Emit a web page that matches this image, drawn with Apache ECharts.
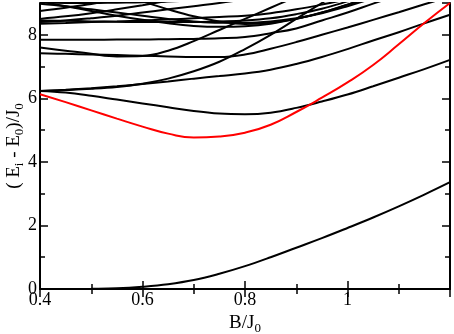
<!DOCTYPE html>
<html>
<head>
<meta charset="utf-8">
<script src="https://cdn.jsdelivr.net/npm/echarts@6/dist/echarts.min.js"></script>
<style>
html, body { margin: 0; padding: 0; background: #fff; }
#chart { width: 454px; height: 334px; }
</style>
</head>
<body>
<div id="chart"></div>
<script>
// field values B/J0
const bField = [0.4, 0.45, 0.5, 0.55, 0.6, 0.65, 0.7, 0.75, 0.8, 0.85, 0.9, 0.95, 1.0, 1.05, 1.1, 1.15, 1.2];

// energy gaps (Ei - E0)/J0; null = off the top of the plot
const level1 = [0, 0, 0.005, 0.02, 0.07, 0.15, 0.28, 0.48, 0.72, 1.0, 1.3, 1.6, 1.92, 2.25, 2.6, 2.97, 3.36];
const levelRed = [6.13, 5.88, 5.62, 5.36, 5.11, 4.89, 4.77, 4.8, 4.92, 5.17, 5.57, 6.02, 6.5, 7.05, 7.7, 8.37, 9.0];
const levelA = [6.23, 6.18, 6.08, 5.96, 5.84, 5.72, 5.6, 5.52, 5.5, 5.55, 5.7, 5.9, 6.12, 6.38, 6.65, 6.92, 7.21];
const levelB = [6.23, 6.27, 6.32, 6.38, 6.45, 6.53, 6.62, 6.7, 6.78, 6.9, 7.08, 7.3, 7.55, 7.82, 8.08, 8.36, 8.63];
const levelC = [6.23, 6.26, 6.3, 6.36, 6.46, 6.62, 6.85, 7.15, 7.55, 8.0, 8.5, 9.0, 9.5, null, null, null, null];
const levelD = [7.42, 7.4, 7.38, 7.36, 7.34, 7.32, 7.3, 7.3, 7.38, 7.56, 7.77, 8.0, 8.23, 8.47, 8.71, 8.96, 9.2];
const levelE = [7.6, 7.5, 7.4, 7.32, 7.33, 7.5, 7.8, 8.15, 8.5, 8.85, 9.2, null, null, null, null, null, null];
const levelF = [7.84, 7.84, 7.84, 7.85, 7.85, 7.86, 7.87, 7.89, 7.93, 8.05, 8.2, 8.45, 8.7, 8.98, 9.25, null, null];
const levelT1 = [9.05, 8.9, 8.75, 8.6, 8.47, 8.36, 8.28, 8.25, 8.27, 8.35, 8.5, 8.7, 8.95, 9.2, null, null, null];
const levelT2 = [8.98, 8.9, 8.8, 8.7, 8.6, 8.5, 8.42, 8.38, 8.38, 8.42, 8.52, 8.68, 8.9, 9.15, null, null, null];
const levelT3 = [8.5, 8.58, 8.68, 8.8, 8.93, 9.07, 9.2, null, null, null, null, null, null, null, null, null, null];
const levelT4 = [8.4, 8.45, 8.52, 8.6, 8.7, 8.8, 8.9, 9.0, 9.12, null, null, null, null, null, null, null, null];
const levelT5 = [8.75, 8.85, 8.97, 9.1, null, null, null, null, null, null, null, null, null, null, null, null, null];
const levelT6 = [8.45, 8.44, 8.42, 8.41, 8.4, 8.4, 8.4, 8.42, 8.45, 8.52, 8.65, 8.82, 9.05, 9.3, null, null, null];
const levelT7 = [8.35, 8.37, 8.4, 8.42, 8.45, 8.48, 8.52, 8.56, 8.6, 8.68, 8.8, 8.95, 9.12, null, null, null, null];
const levelT8 = [9.02, 9.0, 9.0, 9.01, 9.02, 9.05, 9.08, 9.12, null, null, null, null, null, null, null, null, null];
const levelT9 = [null, null, null, 9.3, 9.05, 8.8, 8.58, 8.42, 8.34, 8.38, 8.5, 8.7, 8.95, 9.2, null, null, null];

const xTicks = [0.4, 0.6, 0.8, 1];
const yTicks = [0, 2, 4, 6, 8];

const blackLevels = [level1, levelA, levelB, levelC, levelD, levelE, levelF,
    levelT1, levelT2, levelT3, levelT4, levelT5, levelT6, levelT7, levelT8, levelT9];

const serif = 'Liberation Serif';

const chart = echarts.init(document.getElementById('chart'));

const toPoints = (ys) => bField.map((b, i) => [b, ys[i]]);

const makeLine = (ys, color, smooth) => ({
    type: 'line',
    data: toPoints(ys),
    showSymbol: false,
    smooth: smooth,
    connectNulls: false,
    silent: true,
    lineStyle: { color: color, width: 2 },
    xAxisIndex: 0,
    yAxisIndex: 0
});

const series = blackLevels.map(ys => makeLine(ys, '#000', 0.4));
series.push(makeLine(levelRed, '#ff0000', 0.5));

const frameLine = { show: true, lineStyle: { color: '#000', width: 2 } };

const xBase = {
    type: 'value', min: 0.4, max: 1.2, interval: 0.2,
    axisLine: frameLine,
    axisTick: { inside: true, length: 8, lineStyle: { color: '#000', width: 1.5 } },
    minorTick: { show: true, splitNumber: 2, length: 5, lineStyle: { color: '#000', width: 1.5 } },
    splitLine: { show: false },
    minorSplitLine: { show: false }
};

const yMajor = {
    type: 'value', min: 0, max: 9, interval: 2,
    axisLine: frameLine,
    axisTick: { inside: true, length: 8, lineStyle: { color: '#000', width: 1.5 } },
    splitLine: { show: false }
};
const yMinor = {
    type: 'value', min: 0, max: 9, interval: 1,
    axisLine: { show: false },
    axisTick: { inside: true, length: 5, lineStyle: { color: '#000', width: 1.5 } },
    axisLabel: { show: false },
    splitLine: { show: false }
};

const option = {
    animation: false,
    backgroundColor: '#fff',
    grid: { left: 40, right: 4, top: 3, bottom: 45, containLabel: false, outerBoundsMode: 'none' },
    xAxis: [
        Object.assign({}, xBase, {
            position: 'bottom',
            axisLabel: {
                color: '#000', fontFamily: serif, fontSize: 18, margin: 2,
                showMaxLabel: false,
                formatter: v => xTicks.some(t => Math.abs(t - v) < 1e-9) ? String(+v.toFixed(1)) : ''
            },
            name: 'B/J{sub|0}',
            nameLocation: 'middle',
            nameGap: 23,
            nameMoveOverlap: false,
            nameTextStyle: {
                color: '#000', fontFamily: serif, fontSize: 19,
                rich: { sub: { color: '#000', fontFamily: serif, fontSize: 13, padding: [10, 0, 0, 0] } }
            }
        }),
        Object.assign({}, xBase, { position: 'top', axisLabel: { show: false } })
    ],
    yAxis: [
        Object.assign({}, yMajor, {
            position: 'left',
            axisLabel: {
                color: '#000', fontFamily: serif, fontSize: 18, margin: 3,
                showMaxLabel: false,
                formatter: v => yTicks.includes(v) ? String(v) : ''
            },
            name: '( E{sub|i} - E{sub|0})/J{sub|0}',
            nameLocation: 'middle',
            nameGap: 14,
            nameMoveOverlap: false,
            nameTextStyle: {
                color: '#000', fontFamily: serif, fontSize: 19,
                rich: { sub: { color: '#000', fontFamily: serif, fontSize: 13, padding: [10, 0, 0, 0] } }
            }
        }),
        Object.assign({}, yMinor, { position: 'left' }),
        Object.assign({}, yMajor, { position: 'right', axisLabel: { show: false } }),
        Object.assign({}, yMinor, { position: 'right' })
    ],
    series: series
};

chart.setOption(option);
</script>
</body>
</html>
